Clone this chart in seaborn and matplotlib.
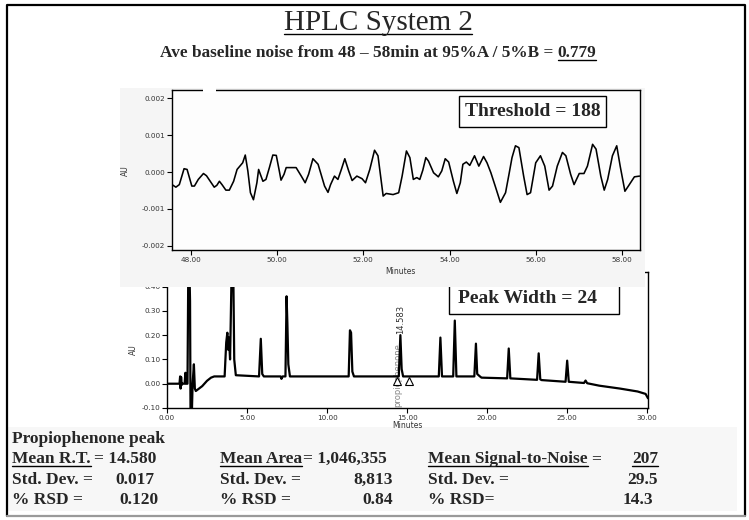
import numpy as np
import pandas as pd
import seaborn as sb
import matplotlib.pyplot as plt
import matplotlib.ticker as ticker
from matplotlib.patches import Rectangle
from matplotlib.lines import Line2D

# baseline noise trace, 48 - 58 min (AU)
noise_time = [47.56, 47.65, 47.73, 47.84, 47.91, 48.02, 48.08, 48.17, 48.29, 48.36,
              48.54, 48.60, 48.66, 48.72, 48.81, 48.89, 48.99, 49.07, 49.20, 49.26,
              49.32, 49.38, 49.45, 49.53, 49.57, 49.61, 49.67, 49.74, 49.82, 49.90,
              49.98, 50.05, 50.09, 50.16, 50.21, 50.33, 50.44, 50.56, 50.65, 50.73,
              50.83, 50.95, 51.10, 51.18, 51.24, 51.33, 51.41, 51.49, 51.57, 51.66,
              51.74, 51.85, 51.97, 52.05, 52.15, 52.26, 52.34, 52.46, 52.53, 52.69,
              52.82, 52.90, 53.00, 53.08, 53.16, 53.24, 53.31, 53.38, 53.45, 53.51,
              53.63, 53.74, 53.82, 53.90, 53.98, 54.09, 54.17, 54.25, 54.31, 54.39,
              54.47, 54.58, 54.68, 54.79, 54.87, 54.96, 55.06, 55.18, 55.30, 55.38,
              55.45, 55.53, 55.61, 55.72, 55.80, 55.88, 56.00, 56.11, 56.21, 56.31,
              56.39, 56.50, 56.62, 56.70, 56.81, 56.89, 57.01, 57.12, 57.20, 57.32,
              57.40, 57.51, 57.59, 57.67, 57.78, 57.88, 57.96, 58.07, 58.15, 58.29,
              58.41]
noise_au = [-0.00034, -0.00041, -0.00034, 0.00009, 0.00007, -0.00038, -0.00038, -0.00020, -0.00004, -0.00010,
            -0.00041, -0.00036, -0.00025, -0.00034, -0.00049, -0.00049, -0.00025, 0.00007, 0.00025, 0.00046,
            0.00003, -0.00056, -0.00075, -0.00029, 0.00007, -0.00006, -0.00025, -0.00020, 0.00012, 0.00046,
            0.00045, 0.00003, -0.00022, -0.00006, 0.00012, 0.00012, 0.00012, -0.00011, -0.00029, -0.00006,
            0.00036, 0.00021, -0.00038, -0.00055, -0.00034, -0.00011, -0.00020, 0.00007, 0.00036, 0.00003,
            -0.00023, -0.00011, -0.00018, -0.00029, 0.00007, 0.00059, 0.00044, -0.00065, -0.00058, -0.00061,
            -0.00056, -0.00011, 0.00057, 0.00039, -0.00020, -0.00015, -0.00020, 0.00005, 0.00039, 0.00030,
            -0.00002, -0.00013, 0.00003, 0.00036, 0.00027, -0.00025, -0.00058, -0.00029, 0.00021, 0.00027,
            0.00018, 0.00044, 0.00016, 0.00042, 0.00025, -0.00002, -0.00038, -0.00082, -0.00056, -0.00006,
            0.00039, 0.00071, 0.00066, -0.00011, -0.00061, -0.00056, 0.00025, 0.00044, 0.00016, -0.00049,
            -0.00038, 0.00016, 0.00053, 0.00044, -0.00006, -0.00034, -0.00004, -0.00004, 0.00016, 0.00075,
            0.00062, -0.00011, -0.00049, -0.00020, 0.00044, 0.00071, 0.00016, -0.00052, -0.00038, -0.00013,
            -0.00011]

# chromatogram, 0 - 30 min (AU)
chrom_time = [0.00, 0.78, 0.82, 0.85, 0.88, 0.92, 0.96, 1.10, 1.15, 1.19,
              1.28, 1.33, 1.40, 1.44, 1.47, 1.55, 1.60, 1.68, 1.74, 1.80,
              1.90, 2.20, 2.50, 2.75, 2.95, 3.60, 3.70, 3.77, 3.82, 3.87,
              3.94, 4.02, 4.08, 4.14, 4.20, 4.30, 5.75, 5.86, 5.95, 6.05,
              7.10, 7.15, 7.22, 7.40, 7.47, 7.52, 7.58, 7.68, 11.35, 11.43,
              11.50, 11.58, 11.68, 14.48, 14.58, 14.66, 14.75, 16.98, 17.08, 17.18,
              17.88, 17.98, 18.08, 19.20, 19.30, 19.38, 19.55, 19.65, 21.25, 21.35,
              21.45, 23.12, 23.22, 23.32, 23.40, 24.90, 25.00, 25.10, 26.05, 26.15,
              26.25, 27.00, 28.30, 29.40, 29.90, 30.05]
chrom_au = [0.000, 0.000, 0.030, -0.020, 0.028, -0.005, 0.000, 0.000, 0.045, 0.000,
            0.000, 0.470, 0.470, 0.340, -0.130, -0.130, 0.000, 0.080, -0.020, -0.030,
            -0.025, -0.010, 0.012, 0.025, 0.030, 0.030, 0.170, 0.210, 0.140, 0.190,
            0.100, 0.400, 0.470, 0.470, 0.100, 0.035, 0.030, 0.185, 0.040, 0.030,
            0.030, 0.020, 0.030, 0.030, 0.360, 0.250, 0.080, 0.030, 0.030, 0.220,
            0.210, 0.050, 0.030, 0.030, 0.200, 0.060, 0.030, 0.030, 0.190, 0.030,
            0.030, 0.260, 0.030, 0.030, 0.165, 0.040, 0.030, 0.025, 0.022, 0.145,
            0.022, 0.016, 0.125, 0.018, 0.015, 0.008, 0.095, 0.008, 0.003, 0.013,
            0.002, -0.008, -0.020, -0.032, -0.042, -0.060]

peak_rt = 14.583
peak_marks_time = [14.38, 15.12]
peak_marks_au = [0.012, 0.012]

W, H = 749, 520

def fx(x):
    return x / W

def fy(y):
    return 1 - y / H

sb.set_style("white")
plt.rcParams['font.family'] = ['Liberation Serif', 'DejaVu Serif']
plt.rcParams['axes.linewidth'] = 1.0

fig = plt.figure(figsize=(W / 100, H / 100), dpi=100)
fig.patch.set_facecolor('white')

# light grey panels behind the screenshots
fig.add_artist(Rectangle((fx(120), fy(287)), fx(645) - fx(120), fy(88) - fy(287),
                         transform=fig.transFigure, facecolor='#f5f5f5', edgecolor='none', zorder=1))
fig.add_artist(Rectangle((fx(8), fy(511)), fx(737) - fx(8), fy(427) - fy(511),
                         transform=fig.transFigure, facecolor='#f7f7f7', edgecolor='none', zorder=0.2))

sans = ['DejaVu Sans']

def style_axis(ax):
    for s in ax.spines.values():
        s.set_color('black')
        s.set_linewidth(1.0)
    ax.tick_params(axis='both', which='major', direction='out', length=3.5, width=0.8,
                   labelsize=5.2, colors='black', labelcolor='#333333', pad=1.2)
    ax.tick_params(axis='both', which='minor', direction='out', length=2, width=0.6)
    ax.tick_params(top=False, right=False, bottom=True, left=True)
    for lab in ax.get_xticklabels() + ax.get_yticklabels():
        lab.set_family(sans)
    ax.set_xlabel('')
    ax.set_ylabel('')

# ---- top: baseline noise ----
ax1 = fig.add_axes([fx(172), fy(250), fx(640) - fx(172), fy(90) - fy(250)], zorder=2)
ax1.set_facecolor('#fdfdfd')
noise_df = pd.DataFrame({'Minutes': noise_time, 'AU': noise_au})
sb.lineplot(data=noise_df, x='Minutes', y='AU', ax=ax1, color='black', lw=1.15,
            estimator=None, sort=False, solid_joinstyle='round')
ax1.set_xlim(47.56, 58.42)
ax1.set_ylim(-0.00211, 0.00222)
ax1.xaxis.set_major_locator(ticker.MultipleLocator(2))
ax1.xaxis.set_minor_locator(ticker.MultipleLocator(0.5))
ax1.yaxis.set_major_locator(ticker.MultipleLocator(0.001))
ax1.yaxis.set_minor_locator(ticker.MultipleLocator(0.0002))
ax1.xaxis.set_major_formatter(ticker.FormatStrFormatter('%.2f'))
ax1.yaxis.set_major_formatter(ticker.FormatStrFormatter('%.3f'))
style_axis(ax1)

# ---- bottom: chromatogram ----
ax2 = fig.add_axes([fx(167), fy(408), fx(648) - fx(167), fy(272) - fy(408)], zorder=0)
ax2.set_facecolor('white')
chrom_df = pd.DataFrame({'Minutes': chrom_time, 'AU': chrom_au})
sb.lineplot(data=chrom_df, x='Minutes', y='AU', ax=ax2, color='black', lw=1.6,
            estimator=None, sort=False, zorder=3)
ax2.plot(peak_marks_time, peak_marks_au, ls='none', marker='^', ms=6,
         mfc='white', mec='black', mew=0.8, zorder=4)
ax2.text(peak_rt, 0.205, '14.583', rotation=90, ha='center', va='bottom',
         fontsize=6, family=sans, color='#333333', zorder=5)
ax2.text(peak_rt - 0.15, -0.097, 'propiophenone', rotation=90, ha='center', va='bottom',
         fontsize=6, family=sans, color='#888888', zorder=2)
ax2.set_xlim(0, 30.05)
ax2.set_ylim(-0.10, 0.46)
ax2.xaxis.set_major_locator(ticker.MultipleLocator(5))
ax2.xaxis.set_minor_locator(ticker.MultipleLocator(1))
ax2.yaxis.set_major_locator(ticker.MultipleLocator(0.1))
ax2.yaxis.set_minor_locator(ticker.MultipleLocator(0.02))
ax2.xaxis.set_major_formatter(ticker.FormatStrFormatter('%.2f'))
ax2.yaxis.set_major_formatter(ticker.FormatStrFormatter('%.2f'))
style_axis(ax2)

# axis titles
fig.text(fx(125), fy(171), 'AU', rotation=90, ha='center', va='center', fontsize=5.5, family=sans, color='#333333', zorder=3)
fig.text(fx(400), fy(272), 'Minutes', ha='center', va='center', fontsize=5.5, family=sans, color='#333333', zorder=3)
fig.text(fx(133), fy(350), 'AU', rotation=90, ha='center', va='center', fontsize=5.5, family=sans, color='#333333')
fig.text(fx(407), fy(425), 'Minutes', ha='center', va='center', fontsize=5.5, family=sans, color='#333333', zorder=1)

# white notch in the top frame
fig.add_artist(Rectangle((fx(203), fy(93)), fx(216) - fx(203), fy(85) - fy(93),
                         transform=fig.transFigure, facecolor='white', edgecolor='none', zorder=4))

# boxes
fig.add_artist(Rectangle((fx(459), fy(127)), fx(606) - fx(459), fy(96) - fy(127),
                         transform=fig.transFigure, facecolor='white', edgecolor='black', lw=1.0, zorder=3))
fig.text(fx(532.5), fy(111.5), 'Threshold = 188', ha='center', va='center',
         fontsize=14, fontweight='bold', zorder=3.5)
fig.add_artist(Rectangle((fx(449), fy(314)), fx(619) - fx(449), fy(270) - fy(314),
                         transform=fig.transFigure, facecolor='white', edgecolor='black', lw=1.0, zorder=0.5))
fig.text(fx(528), fy(298.5), 'Peak Width = 24', ha='center', va='center',
         fontsize=14, fontweight='bold', zorder=0.6)

# outer frame
fig.add_artist(Line2D([fx(7), fx(7), fx(745), fx(745)], [fy(516), fy(5), fy(5), fy(516)],
                      transform=fig.transFigure, color='black', lw=1.6, zorder=6))
fig.add_artist(Line2D([fx(7), fx(745)], [fy(516), fy(516)],
                      transform=fig.transFigure, color='#9a9a9a', lw=1.6, zorder=6))

renderer = fig.canvas.get_renderer()

def put(x, y, s, size=12.5, weight='bold', ha='left', ul=False, ul_off=2.5):
    t = fig.text(fx(x), fy(y), s, ha=ha, va='baseline', fontsize=size, fontweight=weight, zorder=5)
    bb = t.get_window_extent(renderer)
    if ul:
        yy = (H - y - ul_off) / H
        fig.add_artist(Line2D([bb.x0 / W, bb.x1 / W], [yy, yy], transform=fig.transFigure,
                              color='black', lw=1.0, zorder=5))
    return bb

# title
put(378, 30, 'HPLC System 2', size=21, weight='normal', ha='center', ul=True, ul_off=4)

# subtitle with underlined value
sub = 'Ave baseline noise from 48 \u2013 58min at 95%A / 5%B = '
t = fig.text(0, 0, sub + '0.779', fontsize=12.4, fontweight='bold')
wtot = t.get_window_extent(renderer).width
t.remove()
x0 = 378 - wtot / 2
bb = put(x0, 57, sub, size=12.4)
put(bb.x1, 57, '0.779', size=12.4, ul=True)

# propiophenone statistics table
rows = [443, 463, 484, 504]
put(12, rows[0], 'Propiophenone peak')

bb = put(12, rows[1], 'Mean R.T.', ul=True)
put(bb.x1 + 3, rows[1], '= 14.580')
put(154, rows[2], '0.017', ha='right')
put(158, rows[3], '0.120', ha='right')
put(12, rows[2], 'Std. Dev. =')
put(12, rows[3], '% RSD =')

bb = put(220, rows[1], 'Mean Area', ul=True)
put(bb.x1 + 1, rows[1], '= 1,046,355')
put(220, rows[2], 'Std. Dev. =')
put(220, rows[3], '% RSD =')
put(393, rows[2], '8,813', ha='right')
put(393, rows[3], '0.84', ha='right')

bb = put(428, rows[1], 'Mean Signal-to-Noise', ul=True)
put(bb.x1 + 3, rows[1], '=')
put(428, rows[2], 'Std. Dev. =')
put(428, rows[3], '% RSD=')
put(645, rows[1], '207', ha='center', ul=True)
put(642, rows[2], '29.5', ha='center')
put(638, rows[3], '14.3', ha='center')

plt.savefig('out.png', dpi=100)
